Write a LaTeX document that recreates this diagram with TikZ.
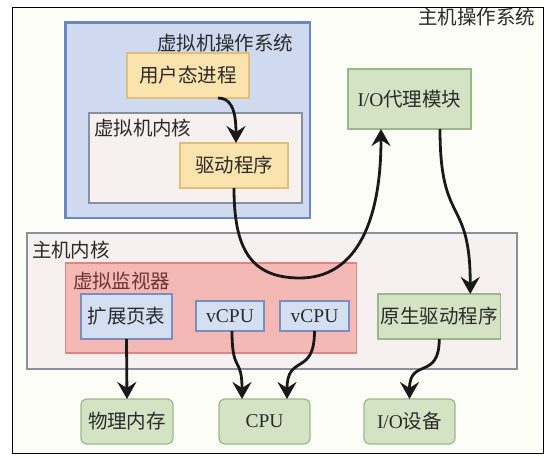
\documentclass[tikz,border=0pt]{standalone}
\usepackage{fontspec}
\setmainfont{Liberation Serif}
\newfontfamily\cjk{Noto Sans CJK SC}
\usetikzlibrary{arrows.meta}
\definecolor{txt}{HTML}{2B2B2B}
\definecolor{outerbg}{HTML}{FDFDF8}
\definecolor{vmosfill}{HTML}{CFDAF0}
\definecolor{vmosline}{HTML}{6C87BF}
\definecolor{yelfill}{HTML}{FBE3AD}
\definecolor{yelline}{HTML}{E0BF7C}
\definecolor{kfill}{HTML}{F6F1F0}
\definecolor{kline}{HTML}{8C8F9C}
\definecolor{grnfill}{HTML}{D3E3C4}
\definecolor{grnline}{HTML}{9AB98A}
\definecolor{vmmfill}{HTML}{F5B9B5}
\definecolor{vmmline}{HTML}{E08480}
\definecolor{bluefill}{HTML}{D4E0F2}
\definecolor{blueline}{HTML}{7A8FC0}
\definecolor{vmmtxt}{HTML}{6E3434}
\begin{document}
\begin{tikzpicture}[x=1pt,y=-1pt,
  every node/.style={inner sep=0pt, outer sep=0pt, text=txt, font=\cjk\fontsize{19.5}{22}\selectfont},
  cont/.style={draw, rectangle, anchor=north west},
  ybox/.style={cont, fill=yelfill, draw=yelline, line width=1.2pt},
  gbox/.style={cont, fill=grnfill, draw=grnline, line width=1.2pt},
  bbox/.style={cont, fill=bluefill, draw=blueline, line width=1.2pt},
  rbox/.style={gbox, rounded corners=6pt},
  lbl/.style={anchor=west},
  conn/.style={line width=2.8pt, draw=black!90, -{Stealth[length=17pt,width=19pt,inset=6pt]}}
]
\useasboundingbox (0,0) rectangle (547,458);
\node[cont, fill=outerbg, draw=black, line width=1pt, minimum width=530.5pt, minimum height=445.5pt] (outer) at (12.5,7.5) {};
\node[anchor=east] (hostos) at (535,17) {主机操作系统};

% guest OS
\node[cont, fill=vmosfill, draw=vmosline, line width=2.2pt, minimum width=244.5pt, minimum height=195.5pt] (vmos) at (65.5,22.5) {};
\node[lbl] (vmoslbl) at (157,43) {虚拟机操作系统};
\node[ybox, minimum width=122pt, minimum height=45pt] (user) at (127,53) {用户态进程};
\node[cont, fill=kfill, draw=kline, line width=1.4pt, minimum width=213pt, minimum height=90pt] (vmk) at (89,113) {};
\node[lbl] (vmklbl) at (94,128) {虚拟机内核};
\node[ybox, minimum width=108pt, minimum height=45pt] (drv) at (180,143) {驱动程序};

% I/O proxy
\node[gbox, minimum width=123pt, minimum height=60pt] (io) at (348,69) {{\rmfamily I/O}代理模块};

% host kernel
\node[cont, fill=kfill, draw=kline, line width=1.4pt, minimum width=490pt, minimum height=136pt] (hostk) at (27,233) {};
\node[lbl] (hostklbl) at (32,250) {主机内核};
\node[cont, fill=vmmfill, draw=vmmline, line width=1.2pt, minimum width=291pt, minimum height=90pt] (vmm) at (65.5,263) {};
\node[lbl, text=vmmtxt] (vmmlbl) at (73,281) {虚拟监视器};
\node[bbox, minimum width=91pt, minimum height=45pt] (ept) at (81,294) {扩展页表};
\node[bbox, minimum width=68pt, minimum height=30pt, font=\rmfamily\fontsize{19.5}{22}\selectfont] (vcpu1) at (196,301) {vCPU};
\node[bbox, minimum width=69pt, minimum height=30pt, font=\rmfamily\fontsize{19.5}{22}\selectfont] (vcpu2) at (280,301) {vCPU};
\node[gbox, minimum width=122.5pt, minimum height=45pt] (native) at (378,294) {原生驱动程序};

% hardware
\node[rbox, minimum width=92pt, minimum height=45pt] (mem) at (81,399) {物理内存};
\node[rbox, minimum width=91pt, minimum height=45pt, font=\rmfamily\fontsize{19.5}{22}\selectfont] (cpu) at (219,399) {CPU};
\node[rbox, minimum width=91pt, minimum height=45pt] (iodev) at (364,399) {{\rmfamily I/O}设备};

\coordinate (loopb) at (300,278);

% connectors
\draw[conn] ([xshift=30pt]user.south) .. controls +(12,0) and +(0,-35) .. ([xshift=2pt]drv.north);
\draw[conn] (drv.south) .. controls +(0,60) and +(-50,0) .. (loopb) .. controls +(52,0) and +(0,100) .. ([xshift=-28.5pt]io.south);
\draw[conn] ([xshift=30.5pt]io.south) to[out=-90,in=90,looseness=1.5] ([xshift=31pt]native.north);
\draw[conn] (ept.south) -- (mem.north);
\draw[conn] ([xshift=2pt]vcpu1.south) to[out=-90,in=90,looseness=1.6] ([xshift=-22.5pt]cpu.north);
\draw[conn] (vcpu2.south) to[out=-90,in=90,looseness=1.6] ([xshift=22.5pt]cpu.north);
\draw[conn] (native.south) to[out=-90,in=90,looseness=1.6] (iodev.north);
\end{tikzpicture}
\end{document}
